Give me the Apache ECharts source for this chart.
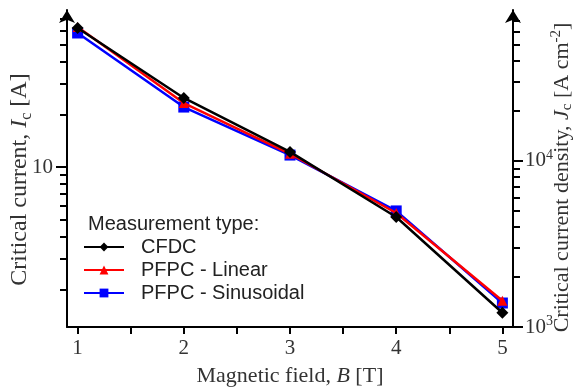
<!DOCTYPE html>
<html><head><meta charset="utf-8">
<script src="https://cdn.jsdelivr.net/npm/echarts@6/dist/echarts.min.js"></script>
<style>html,body{margin:0;padding:0;background:#fff}#c{width:579px;height:392px}</style>
</head><body><div id="c"></div>
<script>
// ---- data ----
const fields = [1, 2, 3, 4, 5];
const cfdc = [62.2, 24.8, 12.2, 5.18, 1.47];
const pfpcLinear = [63.1, 23.2, 11.9, 5.46, 1.72];
const pfpcSinusoidal = [58.3, 22.0, 11.7, 5.61, 1.67];
const seriesNames = ['CFDC', 'PFPC - Linear', 'PFPC - Sinusoidal'];
const xTickValues = [1, 1.5, 2, 2.5, 3, 3.5, 4, 4.5, 5];
const xLabelValues = [1, 2, 3, 4, 5];
const leftMinorTicks = [2, 3, 4, 5, 6, 7, 8, 9, 20, 30, 40, 50, 60, 70];
const leftMajorTicks = [10];
const rightMinorTicks = [2000, 3000, 4000, 5000, 6000, 7000, 8000, 9000, 20000, 30000, 40000, 50000, 60000, 70000];
const rightMajorTicks = [1000, 10000];
const legendTitle = 'Measurement type:';

// ---- layout / style ----
const SERIF = 'Liberation Serif';
const SANS = 'Liberation Sans';
const TXT = '#333';
const leftMin = 1.218, leftMax = 78.9;
const rightMin = 1000, rightMax = 81000;

function pairs(vals) { return fields.map((f, i) => [f, vals[i]]); }
function nameRich(fs) {
  return {
    b: { fontFamily: SERIF, fontSize: fs, color: TXT, lineHeight: fs + 4 },
    i: { fontFamily: SERIF, fontSize: fs, color: TXT, fontStyle: 'italic', lineHeight: fs + 4 },
    sub: { fontFamily: SERIF, fontSize: Math.round(fs * 0.68), color: TXT, lineHeight: 15, padding: [fs - 11, 0, 0, 0] },
    sup: { fontFamily: SERIF, fontSize: Math.round(fs * 0.68), color: TXT, lineHeight: 15, padding: [0, 0, fs - 11, 0] }
  };
}
const axisLineStyle = { color: '#000', width: 2 };

const chart = echarts.init(document.getElementById('c'), null, { renderer: 'canvas' });
chart.setOption({
  backgroundColor: '#fff',
  animation: false,
  title: {
    text: legendTitle, left: 88, top: 214, padding: 0,
    textStyle: { fontFamily: SANS, fontSize: 20, fontWeight: 'normal', color: '#222' }
  },
  legend: {
    data: seriesNames, orient: 'vertical', left: 83, top: 237, padding: 0,
    itemWidth: 40, itemHeight: 11, itemGap: 3,
    textStyle: { fontFamily: SANS, fontSize: 20, color: '#222', lineHeight: 20, padding: [0, 0, 0, 12] }
  },
  grid: { left: 67, right: 66, top: 10, bottom: 65, containLabel: false, outerBoundsMode: 'none' },
  xAxis: {
    type: 'value', min: 0.9, max: 5.1,
    name: '{b|Magnetic field, }{i|B}{b| [T]}', nameLocation: 'middle', nameGap: 36,
    nameTextStyle: { rich: nameRich(22) },
    axisLine: { show: true, onZero: false, lineStyle: axisLineStyle },
    axisTick: { show: true, inside: false, length: 7, customValues: xTickValues, lineStyle: axisLineStyle },
    axisLabel: { customValues: xLabelValues, margin: 11, fontFamily: SERIF, fontSize: 21, color: TXT },
    splitLine: { show: false }
  },
  yAxis: [
    {
      type: 'log', logBase: 10, min: leftMin, max: leftMax, position: 'left',
      name: '{b|Critical current, }{i|I}{sub|c}{b| [A]}', nameLocation: 'middle', nameGap: 33, nameRotate: 90,
      nameTextStyle: { rich: nameRich(24), padding: [0, 22, 0, 0] },
      axisLine: { show: true, lineStyle: axisLineStyle, symbol: ['none', 'arrow'], symbolSize: [12, 13] },
      axisTick: { show: true, length: 7, customValues: leftMinorTicks, lineStyle: axisLineStyle },
      axisLabel: { show: false },
      splitLine: { show: false }
    },
    {
      type: 'log', logBase: 10, min: leftMin, max: leftMax, position: 'left',
      axisLine: { show: false },
      axisTick: { show: true, length: 11, customValues: leftMajorTicks, lineStyle: axisLineStyle },
      axisLabel: { customValues: leftMajorTicks, margin: 14, fontFamily: SERIF, fontSize: 21, color: TXT },
      splitLine: { show: false }
    },
    {
      type: 'log', logBase: 10, min: rightMin, max: rightMax, position: 'right',
      name: '{b|Critical current density, }{i|J}{sub|c}{b| [A cm}{sup|-2}{b|]}', nameLocation: 'middle', nameGap: 36, nameRotate: 90,
      nameTextStyle: { rich: nameRich(22), padding: [0, 18, 0, 0] },
      axisLine: { show: true, lineStyle: axisLineStyle, symbol: ['none', 'arrow'], symbolSize: [12, 13] },
      axisTick: { show: true, length: 7, customValues: rightMinorTicks, lineStyle: axisLineStyle },
      axisLabel: { show: false },
      splitLine: { show: false }
    },
    {
      type: 'log', logBase: 10, min: rightMin, max: rightMax, position: 'right',
      axisLine: { show: false },
      axisTick: { show: true, length: 10, customValues: rightMajorTicks, lineStyle: axisLineStyle },
      axisLabel: {
        customValues: rightMajorTicks, margin: 12,
        formatter: v => '{b|10}{sup|' + Math.round(Math.log10(v)) + '}',
        rich: {
          b: { fontFamily: SERIF, fontSize: 21, color: TXT, lineHeight: 26 },
          sup: { fontFamily: SERIF, fontSize: 14, color: TXT, lineHeight: 14, padding: [0, 0, 12, 0] }
        }
      },
      splitLine: { show: false }
    }
  ],
  series: [
    {
      name: seriesNames[0], type: 'line', yAxisIndex: 0, data: pairs(cfdc), z: 5,
      symbol: 'diamond', symbolSize: 12, showAllSymbol: true,
      lineStyle: { color: '#000', width: 2.5 }, itemStyle: { color: '#000' }
    },
    {
      name: seriesNames[1], type: 'line', yAxisIndex: 0, data: pairs(pfpcLinear), z: 4,
      symbol: 'triangle', symbolSize: 10,
      lineStyle: { color: '#ff0000', width: 2.5 }, itemStyle: { color: '#ff0000' }
    },
    {
      name: seriesNames[2], type: 'line', yAxisIndex: 0, data: pairs(pfpcSinusoidal), z: 3,
      symbol: 'rect', symbolSize: 11,
      lineStyle: { color: '#0000ff', width: 2.5 }, itemStyle: { color: '#0000ff' }
    }
  ]
});
</script></body></html>
